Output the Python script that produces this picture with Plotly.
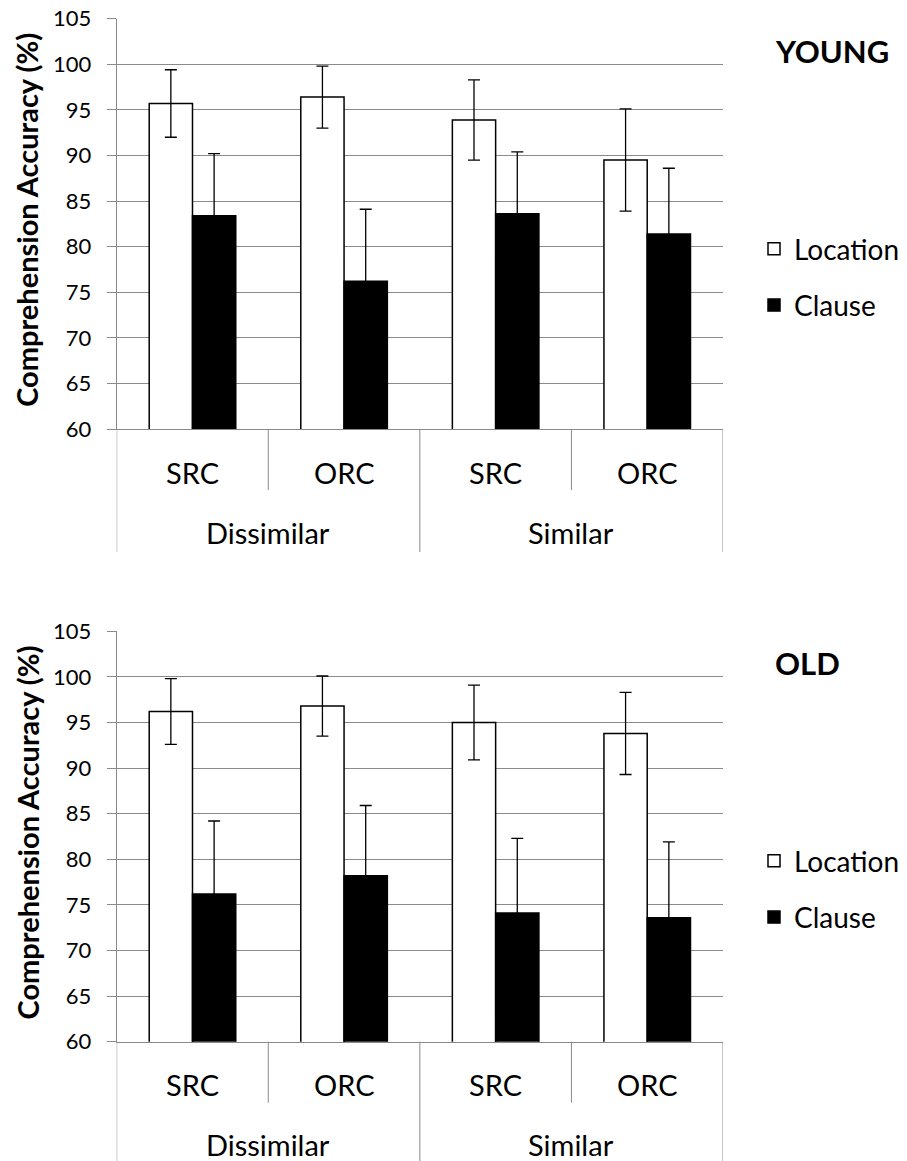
import plotly.graph_objects as go

# Condition labels (inner = clause type, outer = similarity)
inner_labels = ["SRC", "ORC", "SRC", "ORC"]
outer_labels = ["Dissimilar", "Similar"]
positions = [0, 1, 2, 3]

# Young group: mean comprehension accuracy (%) and error bars
young_location = [95.7, 96.4, 93.9, 89.5]
young_location_err = [3.7, 3.4, 4.4, 5.6]
young_clause = [83.4, 76.2, 83.6, 81.4]
young_clause_err = [6.8, 7.9, 6.8, 7.2]

# Old group
old_location = [96.2, 96.8, 95.0, 93.8]
old_location_err = [3.6, 3.3, 4.1, 4.5]
old_clause = [76.2, 78.2, 74.1, 73.6]
old_clause_err = [8.0, 7.7, 8.2, 8.3]

y_ticks = list(range(60, 106, 5))

W, H = 907, 1161
FONT = "Lato, 'Noto Sans', sans-serif"
GRID = "#8a8a8a"


def py(px):
    """Pixel row (from top) -> paper y."""
    return 1 - px / H


def px_x(px):
    return px / W


# plot-area pixel boxes for both panels
panels = [
    dict(top=18.7, bottom=429.0, title="YOUNG",
         loc=young_location, loc_err=young_location_err,
         cl=young_clause, cl_err=young_clause_err),
    dict(top=631.3, bottom=1041.7, title="OLD",
         loc=old_location, loc_err=old_location_err,
         cl=old_clause, cl_err=old_clause_err),
]

fig = go.Figure()
shapes = []
annotations = []

for i, p in enumerate(panels):
    sfx = "" if i == 0 else str(i + 1)
    xa, ya = "x" + sfx, "y" + sfx
    leg = "legend" if i == 0 else "legend2"

    fig.add_trace(go.Bar(
        x=positions, y=p["loc"], name="Location",
        xaxis=xa, yaxis=ya, legend=leg, legendgroup="loc" + sfx,
        marker=dict(color="white", line=dict(color="black", width=1.5)),
        error_y=dict(type="data", array=p["loc_err"], visible=True,
                     color="black", thickness=1.3, width=6),
    ))
    fig.add_trace(go.Bar(
        x=positions, y=p["cl"], name="Clause",
        xaxis=xa, yaxis=ya, legend=leg, legendgroup="cl" + sfx,
        marker=dict(color="black", line=dict(color="black", width=1.5)),
        error_y=dict(type="data", array=p["cl_err"], visible=True,
                     color="black", thickness=1.3, width=6),
    ))

    dom_y = [py(p["bottom"]), py(p["top"])]
    fig.update_layout(**{
        "xaxis" + sfx: dict(
            domain=[px_x(116.7), px_x(723)], range=[-0.5, 3.5],
            showticklabels=False, ticks="", showgrid=False, zeroline=False,
            showline=True, linecolor=GRID, linewidth=1, anchor=ya,
            automargin=False, fixedrange=True,
        ),
        "yaxis" + sfx: dict(
            domain=dom_y, range=[60, 105], tickvals=y_ticks,
            showgrid=True, gridcolor=GRID, gridwidth=1, zeroline=False,
            showline=True, linecolor=GRID, linewidth=1,
            ticks="outside", ticklen=9, tickcolor=GRID, tickwidth=1,
            ticklabelstandoff=11, automargin=False, fixedrange=True,
            tickfont=dict(family=FONT, size=22, color="black"), anchor=xa,
        ),
    })

    b = p["bottom"]
    # separators of the two-level category axis
    for xv, length in [(-0.5, 123), (0.5, 61), (1.5, 123), (2.5, 61), (3.5, 123)]:
        shapes.append(dict(type="line", xref=xa, yref="paper",
                           x0=xv, x1=xv, y0=py(b), y1=py(min(b + length, H)),
                           line=dict(color=GRID, width=1)))
    for xv, lab in zip(positions, inner_labels):
        annotations.append(dict(x=xv, y=py(b + 43), xref=xa, yref="paper",
                                text=lab, showarrow=False,
                                font=dict(family=FONT, size=29, color="black"),
                                xanchor="center", yanchor="middle"))
    for k, lab in enumerate(outer_labels):
        annotations.append(dict(x=0.5 + 2 * k, y=py(b + 103), xref=xa, yref="paper",
                                text=lab, showarrow=False,
                                font=dict(family=FONT, size=29, color="black"),
                                xanchor="center", yanchor="middle"))
    # axis title
    annotations.append(dict(x=px_x(27), y=py((p["top"] + p["bottom"]) / 2 - 4),
                            xref="paper", yref="paper",
                            text="<b>Comprehension Accuracy (%)</b>", textangle=-90,
                            showarrow=False,
                            font=dict(family=FONT, size=29, color="black"),
                            xanchor="center", yanchor="middle"))
    # panel title
    annotations.append(dict(x=px_x(773), y=py(p["top"] + 32),
                            xref="paper", yref="paper",
                            text="<b>%s</b>" % p["title"], showarrow=False,
                            font=dict(family=FONT, size=31, color="black"),
                            xanchor="left", yanchor="middle"))

legend_style = dict(font=dict(family=FONT, size=28, color="black"),
                    xanchor="left", yanchor="top", bgcolor="rgba(0,0,0,0)",
                    tracegroupgap=17, itemwidth=30, traceorder="grouped",
                    borderwidth=0)

fig.update_layout(
    width=W, height=H, margin=dict(l=0, r=0, t=0, b=0, autoexpand=False),
    paper_bgcolor="white", plot_bgcolor="white",
    barmode="group", bargap=0.429, bargroupgap=0,
    showlegend=True,
    legend=dict(x=px_x(754), y=py(250 - 26), **legend_style),
    legend2=dict(x=px_x(754), y=py(862 - 26), **legend_style),
    shapes=shapes, annotations=annotations,
    font=dict(family=FONT, color="black"),
)

fig.write_html("out.html")
